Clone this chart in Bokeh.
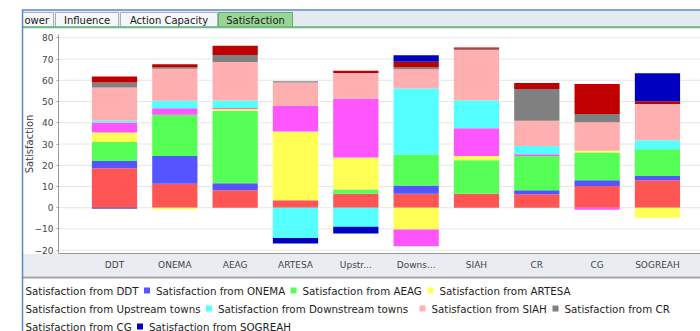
import numpy as np
from bokeh.plotting import figure
from bokeh.models import Range1d, FixedTicker, LinearAxis
from bokeh.embed import file_html
from bokeh.resources import INLINE
from bokeh.core.properties import value

# ---------------- data ----------------
categories = ["DDT", "ONEMA", "AEAG", "ARTESA", "Upstr...", "Downs...", "SIAH", "CR", "CG", "SOGREAH"]

series_names = ["Satisfaction from DDT", "Satisfaction from ONEMA", "Satisfaction from AEAG",
                "Satisfaction from ARTESA", "Satisfaction from Upstream towns",
                "Satisfaction from Downstream towns", "Satisfaction from SIAH",
                "Satisfaction from CR", "Satisfaction from CG", "Satisfaction from SOGREAH"]
series_colors = ["#FF5555", "#5555FF", "#55FF55", "#FFFF55", "#FF55FF",
                 "#55FFFF", "#FFAFAF", "#808080", "#C00000", "#0000C0"]

from_ddt        = [18.6, 11.3,  8.2,   3.5,  6.6,   6.6,  6.6,  6.3, 10.2, 12.9]
from_onema      = [ 3.4, 13.1,  3.3,   0.0,  0.0,   3.9,  0.0,  1.9,  2.7,  2.0]
from_aeag       = [ 9.0, 19.4, 34.2,   0.0,  2.0,  14.6, 15.7, 16.2, 13.1, 12.6]
from_artesa     = [ 4.4, -0.7,  0.8,  32.4, 15.0, -10.2,  2.0,  0.0,  0.8, -4.7]
from_upstream   = [ 4.7,  3.0,  0.5,  12.1, 27.7,  -7.9, 13.1,  0.8, -1.0,  0.0]
from_downstream = [ 0.8,  3.6,  3.5, -14.2, -9.0,  31.0, 13.2,  3.9,  0.0,  4.3]
from_siah       = [15.7, 15.0, 18.1,  11.0, 12.1,   9.1, 23.6, 11.8, 13.4, 17.0]
from_cr         = [ 2.4,  0.8,  3.3,   0.5,  0.0,   1.1,  0.6, 15.0,  3.9,  0.0]
from_cg         = [ 2.8,  1.3,  4.3,   0.0,  1.1,   2.4,  0.6,  2.8, 14.2,  1.3]
from_sogreah    = [-0.4,  0.0,  0.0,  -2.7, -3.1,   3.1,  0.0,  0.0,  0.0, 13.2]

y_ticks = [-20, -10, 0, 10, 20, 30, 40, 50, 60, 70, 80]
tab_labels = ["ower", "Influence", "Action Capacity", "Satisfaction"]

series_values = [from_ddt, from_onema, from_aeag, from_artesa, from_upstream,
                 from_downstream, from_siah, from_cr, from_cg, from_sogreah]

FONT = "DejaVu Sans"
W, H = 700, 331
BLUE = "#5A88C6"

# Chart region on the canvas (pixels): plot area x 58..700, y 34..253
X0_PX, PX_PER_CAT = 114.0, 60.33          # centre of first category, category pitch
Y80_PX, PX_PER_UNIT = 37.3, 2.124          # position of the 80 tick, pixels per unit
x_start = -X0_PX / PX_PER_CAT
x_end = x_start + W / PX_PER_CAT
y_end = 80 + Y80_PX / PX_PER_UNIT
y_start = y_end - H / PX_PER_UNIT
ax_left = (58 - X0_PX) / PX_PER_CAT        # data x of the value axis
ax_bottom = -21.6                          # data y of the category axis
ax_top = 81.5

p = figure(width=W, height=H, toolbar_location=None, output_backend="svg",
           x_range=Range1d(x_start, x_end), y_range=Range1d(y_start, y_end),
           x_axis_location=None, y_axis_location=None, min_border=0)
p.extra_x_ranges = {"px": Range1d(0, W)}
p.extra_y_ranges = {"px": Range1d(H, 0)}
p.background_fill_color = "white"
p.border_fill_color = "white"
p.outline_line_color = None
p.grid.visible = False

PX = dict(x_range_name="px", y_range_name="px")

# ---------------- panel chrome (pixel space) ----------------
p.quad(left=[22], right=[W], top=[253.5], bottom=[276], fill_color="#E9EDF2", line_color=None, **PX)
p.quad(left=[22], right=[W], top=[276], bottom=[278], fill_color="#A3A3A3", line_color=None, **PX)
p.quad(left=[22], right=[W], top=[10], bottom=[27], fill_color="#E5EAF0", line_color=None, **PX)
tab_left = [22, 55, 120, 218]
tab_right = [53, 118, 217, 292]
tab_fill = ["#F4F6F8", "#F4F6F8", "#F4F6F8", "#98D596"]
tab_edge = ["#A9B1BA", "#A9B1BA", "#A9B1BA", "#5DAE6B"]
p.quad(left=tab_left, right=tab_right, top=[12] * 4, bottom=[26.5] * 4,
       fill_color=tab_fill, line_color=tab_edge, line_width=1, **PX)
p.segment(x0=[22], y0=[9.5], x1=[W], y1=[9.5], line_color=BLUE, line_width=1.5, **PX)
p.segment(x0=[22], y0=[26.8], x1=[W], y1=[26.8], line_color="#6CB884", line_width=2, **PX)
p.segment(x0=[22], y0=[9], x1=[22], y1=[H], line_color=BLUE, line_width=1.5, **PX)
p.text(x=[24, 86.5, 168.5, 255], y=[19.5] * 4, text=tab_labels,
       text_font=value(FONT), text_font_size="10px", text_color="#1A1A1A",
       text_align=["left", "center", "center", "center"], text_baseline="middle", **PX)

# ---------------- grid lines ----------------
p.segment(x0=[ax_left] * len(y_ticks), y0=y_ticks, x1=[x_end] * len(y_ticks), y1=y_ticks,
          line_color="#E6E6E6", line_width=1)

# ---------------- stacked bars (positives up, negatives down) ----------------
n = len(categories)
xs = np.arange(n)
pos = np.zeros(n)
neg = np.zeros(n)
for vals, col in zip(series_values, series_colors):
    v = np.array(vals, dtype=float)
    bottom = np.where(v >= 0, pos, neg + v)
    top = np.where(v >= 0, pos + v, neg)
    pos = np.where(v >= 0, pos + v, pos)
    neg = np.where(v < 0, neg + v, neg)
    p.vbar(x=xs, bottom=bottom, top=top, width=0.75, fill_color=col, line_color=None)

# ---------------- axes ----------------
xax = LinearAxis(fixed_location=ax_bottom, bounds=(ax_left, x_end))
xax.ticker = FixedTicker(ticks=list(range(n)))
xax.major_label_overrides = {i: c for i, c in enumerate(categories)}
xax.major_tick_line_color = None
xax.major_tick_out = 0
xax.major_tick_in = 0
xax.minor_tick_line_color = None
xax.axis_line_color = "#9A9A9A"
xax.major_label_text_font = FONT
xax.major_label_text_font_size = "9px"
xax.major_label_text_color = "#444444"
xax.major_label_standoff = 6
p.add_layout(xax, "below")

yax = LinearAxis(fixed_location=ax_left, bounds=(ax_bottom, ax_top))
yax.ticker = FixedTicker(ticks=y_ticks)
yax.axis_line_color = "#9A9A9A"
yax.major_tick_line_color = "#9A9A9A"
yax.major_tick_out = 2
yax.major_tick_in = 0
yax.minor_tick_line_color = None
yax.major_label_text_font = FONT
yax.major_label_text_font_size = "9px"
yax.major_label_text_color = "#444444"
yax.major_label_standoff = 3
yax.axis_label = "Satisfaction"
yax.axis_label_text_font = FONT
yax.axis_label_text_font_size = "10px"
yax.axis_label_text_font_style = "normal"
yax.axis_label_text_color = "#444444"
yax.axis_label_standoff = -3
p.add_layout(yax, "left")

# ---------------- legend (flow rows; first marker of each row lies behind the panel edge) ----------------
rows = [[0, 1, 2, 3], [4, 5, 6, 7], [8, 9]]
row_y = [290, 308, 326]
text_x = {0: 25, 1: 155.5, 2: 302, 3: 439, 4: 25, 5: 217.5, 6: 431, 7: 564, 8: 25, 9: 148.5}
tx, ty, tt, mx, my, mc = [], [], [], [], [], []
for r, items in enumerate(rows):
    for k, i in enumerate(items):
        tx.append(text_x[i])
        ty.append(row_y[r])
        tt.append(series_names[i])
        if k > 0:
            mx.append(text_x[i] - 9)
            my.append(row_y[r])
            mc.append(series_colors[i])
p.text(x=tx, y=ty, text=tt, text_font=value(FONT), text_font_size="10.3px",
       text_color="#1E1E1E", text_baseline="middle", text_align="left", **PX)
p.rect(x=mx, y=my, width=6, height=6, fill_color=mc, line_color=None, **PX)

open("out.html", "w").write(file_html(p, INLINE))
